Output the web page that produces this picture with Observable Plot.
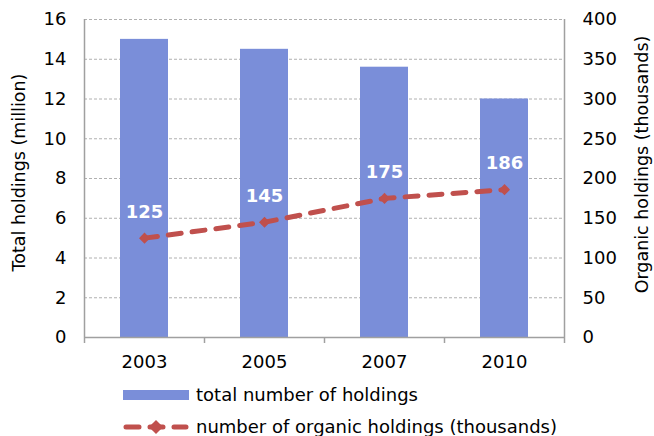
<!DOCTYPE html>
<html><head><meta charset="utf-8">
<script src="https://cdn.jsdelivr.net/npm/d3@7"></script>
<script src="https://cdn.jsdelivr.net/npm/@observablehq/plot@0.6"></script>
<style>
body{margin:0;background:#fff;font-family:"DejaVu Sans",Verdana,sans-serif;}
#chart{position:relative;width:654px;height:436px;overflow:hidden;}
.lg{position:absolute;left:123px;font-size:18px;color:#000;display:flex;align-items:center;gap:7px;white-space:nowrap;}
</style></head><body><div id="chart"></div>
<script>
const years = ["2003", "2005", "2007", "2010"];
const totalHoldings = [15.0, 14.5, 13.6, 12.0];      // million
const organicHoldings = [125, 145, 175, 186];        // thousands
const leftTicks = [0, 2, 4, 6, 8, 10, 12, 14, 16];
const rightPerLeft = 25;                              // 400 thousand <-> 16 million
const legendLabels = ["total number of holdings", "number of organic holdings (thousands)"];
const axisTitles = ["Total holdings (million)", "Organic holdings (thousands)"];

const barColor = "#7a8ed9";
const lineColor = "#c0504d";

const data = years.map((y, i) => ({i, year: y, total: totalHoldings[i], organic: organicHoldings[i]}));
const boundaries = d3.range(years.length + 1);
const centers = years.map((_, i) => i + 0.5);

const plot = Plot.plot({
  width: 654, height: 375,
  marginLeft: 84, marginRight: 90, marginTop: 19, marginBottom: 38,
  style: {fontFamily: "'DejaVu Sans', Verdana, sans-serif", fontSize: "18px", color: "#000", background: "#fff", overflow: "visible"},
  x: {domain: [0, years.length], axis: null},
  y: {domain: [0, 16], axis: null},
  marks: [
    Plot.ruleY(leftTicks.slice(1), {stroke: "#b0b0b0", strokeDasharray: "3 2", strokeWidth: 1}),
    Plot.rectY(data, {x1: d => d.i, x2: d => d.i + 1, y: "total", insetLeft: 36, insetRight: 36, fill: barColor}),
    Plot.ruleX([0, years.length], {y1: 0, y2: 16, stroke: "#a0a0a0", strokeWidth: 1.5}),
    Plot.ruleY([0], {stroke: "#a0a0a0", strokeWidth: 1.5}),
    Plot.axisX(boundaries, {tickSize: 6, tickFormat: () => "", stroke: "#a0a0a0", strokeWidth: 1.5}),
    Plot.axisX(centers, {tickSize: 0, tickPadding: 18, fontSize: 18, tickFormat: d => years[Math.round(d - 0.5)]}),
    Plot.axisY(leftTicks, {anchor: "left", tickSize: 0, tickPadding: 18, fontSize: 18, label: null}),
    Plot.axisY(leftTicks, {anchor: "right", tickSize: 0, tickPadding: 18, fontSize: 18, tickFormat: d => d * rightPerLeft, label: null}),
    Plot.line(data, {x: d => d.i + 0.5, y: d => d.organic / rightPerLeft, stroke: lineColor, strokeWidth: 5,
      strokeDasharray: "13 11", strokeLinecap: "round"}),
    Plot.dot(data, {x: d => d.i + 0.5, y: d => d.organic / rightPerLeft, symbol: "square", rotate: 45, r: 4.4, fill: lineColor, stroke: "none"}),
    Plot.text(data, {x: d => d.i + 0.5, y: d => d.organic / rightPerLeft, text: d => String(d.organic), dy: -26,
      fill: "white", fontWeight: "bold", fontSize: 18}),
    Plot.text([axisTitles[0]], {frameAnchor: "left", textAnchor: "middle", dx: -65, dy: -6, rotate: -90, fontSize: 17.5, fill: "#000"}),
    Plot.text([axisTitles[1]], {frameAnchor: "right", textAnchor: "middle", dx: 78, dy: -14, rotate: -90, fontSize: 17.5, fill: "#000"})
  ]
});

const chart = document.getElementById("chart");
chart.appendChild(plot);

const lg1 = document.createElement("div");
lg1.className = "lg";
lg1.style.top = "384px";
lg1.innerHTML = `<svg width="66" height="20"><rect x="0" y="5" width="66" height="10" fill="${barColor}"/></svg><span>${legendLabels[0]}</span>`;
chart.appendChild(lg1);

const lg2 = document.createElement("div");
lg2.className = "lg";
lg2.style.top = "416px";
lg2.innerHTML = `<svg width="66" height="20"><line x1="3" y1="10" x2="63" y2="10" stroke="${lineColor}" stroke-width="5" stroke-linecap="round" stroke-dasharray="13 11"/><rect x="28" y="5" width="10" height="10" transform="rotate(45 33 10)" fill="${lineColor}"/></svg><span>${legendLabels[1]}</span>`;
chart.appendChild(lg2);
</script></body></html>
